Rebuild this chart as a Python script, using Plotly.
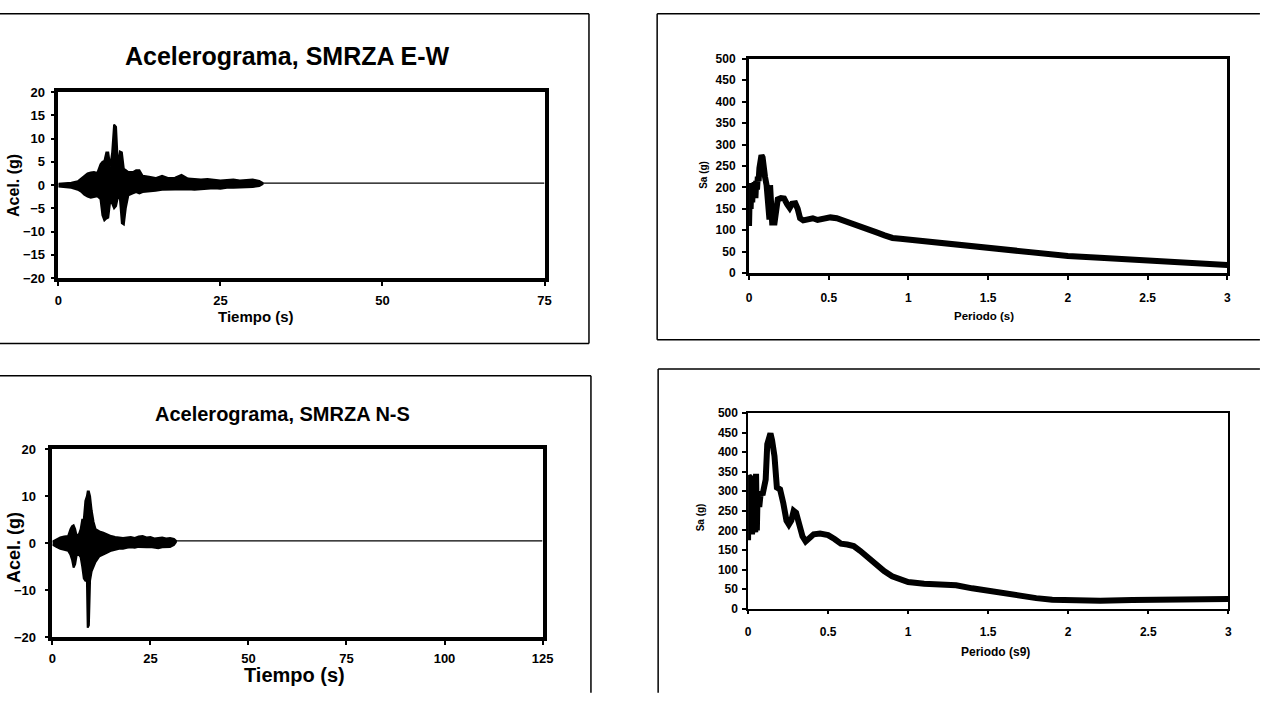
import plotly.graph_objects as go

# target picture size and the page's default body margin (the figure sits at 8,8)
W, H = 1279, 709
OFF = 8
FW, FH = W - 2 * OFF, H - 2 * OFF

# ---------------- data ----------------
# Accelerogram E-W : envelope of the trace (time s, upper g, lower g)
ew_t = [0, 1, 2, 3, 3.5, 4, 4.5, 5, 5.5, 6, 6.5, 6.8, 7.1, 7.4, 7.7, 8.0, 8.3, 8.6, 8.9,
        9.2, 9.5, 9.8, 10.1, 10.4, 10.8, 11.5, 12, 12.5, 13, 14, 15, 16, 17, 18, 19, 20,
        21, 22, 23, 24, 25, 26, 27, 28, 29, 30, 31, 31.5]
ew_up = [0.3, 0.4, 0.5, 0.8, 1.4, 2.0, 2.5, 2.7, 2.8, 2.6, 4.5, 5.0, 5.2, 7.0, 7.0, 4.0, 7.0, 13.0, 12.5,
         4.0, 7.2, 7.0, 3.5, 3.2, 2.8, 2.8, 3.2, 3.2, 2.0, 1.8, 1.5, 2.0, 1.5, 1.6, 2.2, 1.4,
         1.3, 1.2, 1.3, 1.1, 1.0, 1.1, 1.2, 1.0, 1.1, 1.2, 0.9, 0.5]
ew_low = [-0.3, -0.4, -0.6, -1.0, -1.4, -2.1, -2.5, -2.7, -2.6, -2.4, -3.0, -6.5, -7.6, -7.2, -7.0, -3.5, -4.0, -5.0, -4.5,
          -2.5, -3.0, -8.2, -8.5, -5.0, -2.2, -1.8, -1.5, -1.8, -1.5, -1.3, -1.2, -1.0, -1.0, -1.0, -0.9, -0.9,
          -1.0, -0.8, -0.8, -0.7, -0.8, -0.6, -0.6, -0.5, -0.5, -0.4, -0.2, 0.2]
ew_tail_t = [31.5, 75]
ew_tail_a = [0.4, 0.4]

# Accelerogram N-S : envelope of the trace
ns_t = [0, 1, 2, 3, 4, 4.6, 5.0, 5.4, 5.8, 6.2, 6.8, 7.2, 7.6, 8.0, 8.4, 8.8, 9.0, 9.3, 9.6,
        10.0, 10.5, 11, 12, 13, 14, 15, 16, 17, 18, 19, 20, 21, 22, 23, 24, 25, 26, 27, 28,
        29, 30, 31, 31.5]
ns_up = [0.3, 0.8, 1.2, 1.4, 1.5, 3.0, 3.6, 3.8, 3.0, 1.5, 2.0, 3.0, 5.0, 5.0, 9.0, 10.0, 11.0, 11.0, 10.0,
         7.0, 4.5, 3.0, 2.5, 2.2, 1.8, 1.5, 1.3, 1.2, 1.1, 1.2, 1.3, 1.1, 1.4, 1.5, 1.2, 1.3, 1.0, 1.1, 1.2,
         1.0, 1.1, 0.9, 0.5]
ns_low = [-0.3, -0.8, -1.2, -1.4, -1.6, -2.5, -3.5, -5.2, -4.5, -2.5, -2.5, -3.0, -5.0, -7.5, -8.0, -8.0, -18.0, -17.5, -8.0,
          -6.0, -5.0, -4.0, -2.8, -2.4, -2.0, -1.6, -1.4, -1.2, -1.2, -1.0, -0.9, -1.0, -0.8, -0.8, -0.9, -0.8, -1.0, -1.1, -0.9,
          -0.8, -0.8, -0.4, 0.2]
ns_tail_t = [31.5, 125]
ns_tail_a = [0.5, 0.5]

# Response spectrum E-W (period s, Sa)
ew_T = [0.000, 0.005, 0.010, 0.015, 0.020, 0.025, 0.030, 0.035, 0.040, 0.045, 0.050, 0.055, 0.060, 0.065,
        0.070, 0.078, 0.085, 0.090, 0.100, 0.110, 0.120, 0.128, 0.132, 0.136, 0.145, 0.160, 0.170, 0.180,
        0.200, 0.220, 0.240, 0.255, 0.270, 0.290, 0.305, 0.320, 0.340, 0.370, 0.400, 0.430, 0.470, 0.510,
        0.550, 0.600, 0.650, 0.700, 0.750, 0.800, 0.850, 0.900, 0.950, 1.000, 1.100, 1.200, 1.300, 1.400,
        1.500, 1.600, 1.700, 1.800, 1.900, 2.000, 2.200, 2.400, 2.600, 2.800, 3.000]
ew_Sa = [110, 200, 150, 210, 165, 205, 180, 212, 175, 215, 195, 225, 215, 245,
         265, 275, 270, 245, 225, 205, 160, 125, 205, 125, 118, 118, 150, 172,
         175, 174, 160, 152, 162, 163, 150, 128, 123, 127, 128, 124, 126, 130,
         128, 122, 116, 110, 103, 95, 88, 82, 80, 78, 75, 71, 68, 64,
         60, 56, 51, 47, 43, 40, 36, 32, 28, 24, 19]

# Response spectrum N-S
ns_T = [0.000, 0.004, 0.008, 0.012, 0.016, 0.020, 0.025, 0.030, 0.035, 0.040, 0.045, 0.050, 0.055, 0.060,
        0.070, 0.080, 0.090, 0.100, 0.110, 0.120, 0.130, 0.140, 0.150, 0.165, 0.180, 0.200, 0.220, 0.240,
        0.255, 0.270, 0.285, 0.300, 0.320, 0.340, 0.360, 0.380, 0.410, 0.450, 0.500, 0.540, 0.580, 0.620,
        0.660, 0.700, 0.750, 0.800, 0.850, 0.900, 0.950, 1.000, 1.100, 1.200, 1.300, 1.400, 1.500, 1.600,
        1.700, 1.800, 1.900, 2.000, 2.200, 2.400, 2.600, 2.800, 3.000]
ns_Sa = [175, 340, 195, 335, 200, 330, 190, 335, 205, 340, 195, 345, 200, 300,
         260, 300, 290, 305, 330, 420, 445, 448, 430, 390, 310, 305, 270, 225,
         215, 225, 250, 245, 215, 185, 172, 180, 190, 192, 188, 178, 166, 164,
         160, 148, 130, 112, 96, 83, 74, 68, 64, 63, 60, 52, 45, 38,
         32, 27, 23, 21, 20, 22, 23, 24, 25]

# ---------------- helpers (target-picture pixels -> paper) ----------------
def px(x):
    return (x - OFF) / FW

def py(y):
    return 1 - (y - OFF) / FH

FONT = "Liberation Sans, Arial, sans-serif"

fig = go.Figure()

# TL accelerogram E-W
fig.add_trace(go.Scatter(x=ew_t + ew_t[::-1], y=ew_up + ew_low[::-1], mode="lines",
                         fill="toself", fillcolor="black",
                         line=dict(color="black", width=2), xaxis="x", yaxis="y"))
fig.add_trace(go.Scatter(x=ew_tail_t, y=ew_tail_a, mode="lines",
                         line=dict(color="black", width=1.2), xaxis="x", yaxis="y"))
# TR spectrum E-W
fig.add_trace(go.Scatter(x=ew_T, y=ew_Sa, mode="lines",
                         line=dict(color="black", width=6), xaxis="x2", yaxis="y2"))
# BL accelerogram N-S
fig.add_trace(go.Scatter(x=ns_t + ns_t[::-1], y=ns_up + ns_low[::-1], mode="lines",
                         fill="toself", fillcolor="black",
                         line=dict(color="black", width=2), xaxis="x3", yaxis="y3"))
fig.add_trace(go.Scatter(x=ns_tail_t, y=ns_tail_a, mode="lines",
                         line=dict(color="black", width=1.2), xaxis="x3", yaxis="y3"))
# BR spectrum N-S
fig.add_trace(go.Scatter(x=ns_T, y=ns_Sa, mode="lines",
                         line=dict(color="black", width=6), xaxis="x4", yaxis="y4"))


def ax(domain, rng, dtick, anchor, lw, size, standoff):
    return dict(domain=domain, range=rng, dtick=dtick, tick0=0, anchor=anchor,
                showline=True, mirror=True, linecolor="black", linewidth=lw,
                ticks="outside", ticklen=4, tickwidth=1.5, tickcolor="black",
                showgrid=False, zeroline=False, fixedrange=True,
                tickfont=dict(family=FONT, size=size, color="black", weight="bold"),
                ticklabelstandoff=standoff)


layout = dict(
    width=FW, height=FH, margin=dict(l=0, r=0, t=0, b=0),
    paper_bgcolor="white", plot_bgcolor="white", showlegend=False,
    xaxis=ax([px(63), px(555)], [0, 75], 25, "y", 3.5, 13, 4),
    yaxis=ax([py(285), py(95)], [-20, 20], 5, "x", 3.5, 13, 3),
    xaxis2=ax([px(762), px(1246)], [0, 3], 0.5, "y2", 3, 12, 7),
    yaxis2=ax([py(280), py(61)], [0, 500], 50, "x2", 3, 12, 4),
    xaxis3=ax([px(57), px(553)], [0, 125], 25, "y3", 3.5, 13, 3),
    yaxis3=ax([py(652), py(460)], [-20, 20], 10, "x3", 3.5, 13, 6),
    xaxis4=ax([px(761), px(1247)], [0, 3], 0.5, "y4", 1.5, 12, 7),
    yaxis4=ax([py(623), py(423)], [0, 500], 50, "x4", 1.5, 12, 2),
)

# outer panel frames: only the edges that lie inside the picture
edges = [
    (0, 15, 600, 15), (600, 15, 600, 352), (0, 352, 600, 352),          # top-left panel
    (669, 15, 1279, 15), (669, 15, 669, 348), (669, 348, 1279, 348),    # top-right panel
    (0, 385, 602, 385), (602, 385, 602, 709),                           # bottom-left panel
    (670, 378, 1279, 378), (670, 378, 670, 709),                        # bottom-right panel
]
layout["shapes"] = [dict(type="line", xref="paper", yref="paper",
                         x0=px(a), y0=py(b), x1=px(c), y1=py(d),
                         line=dict(color="black", width=1.5), layer="below")
                    for a, b, c, d in edges]


def ann(text, x, y, size, angle=0):
    return dict(text=text, x=px(x), y=py(y), xref="paper", yref="paper",
                showarrow=False, xanchor="center", yanchor="middle", textangle=angle,
                font=dict(family=FONT, size=size, color="black", weight="bold"))


layout["annotations"] = [
    ann("Acelerograma, SMRZA E-W", 295, 58, 25),
    ann("Acel. (g)", 17, 190, 16, -90),
    ann("Tiempo (s)", 263, 324, 15),
    ann("Sa (g)", 716, 180, 10, -90),
    ann("Periodo (s)", 1000, 324, 11.5),
    ann("Acelerograma, SMRZA N-S", 290, 424, 20),
    ann("Acel. (g)", 18, 560, 18, -90),
    ann("Tiempo (s)", 302, 691, 20),
    ann("Sa (g)", 713, 530, 10, -90),
    ann("Periodo (s9)", 1011, 667, 12),
]

fig.update_layout(**layout)
fig.write_html("out.html")
